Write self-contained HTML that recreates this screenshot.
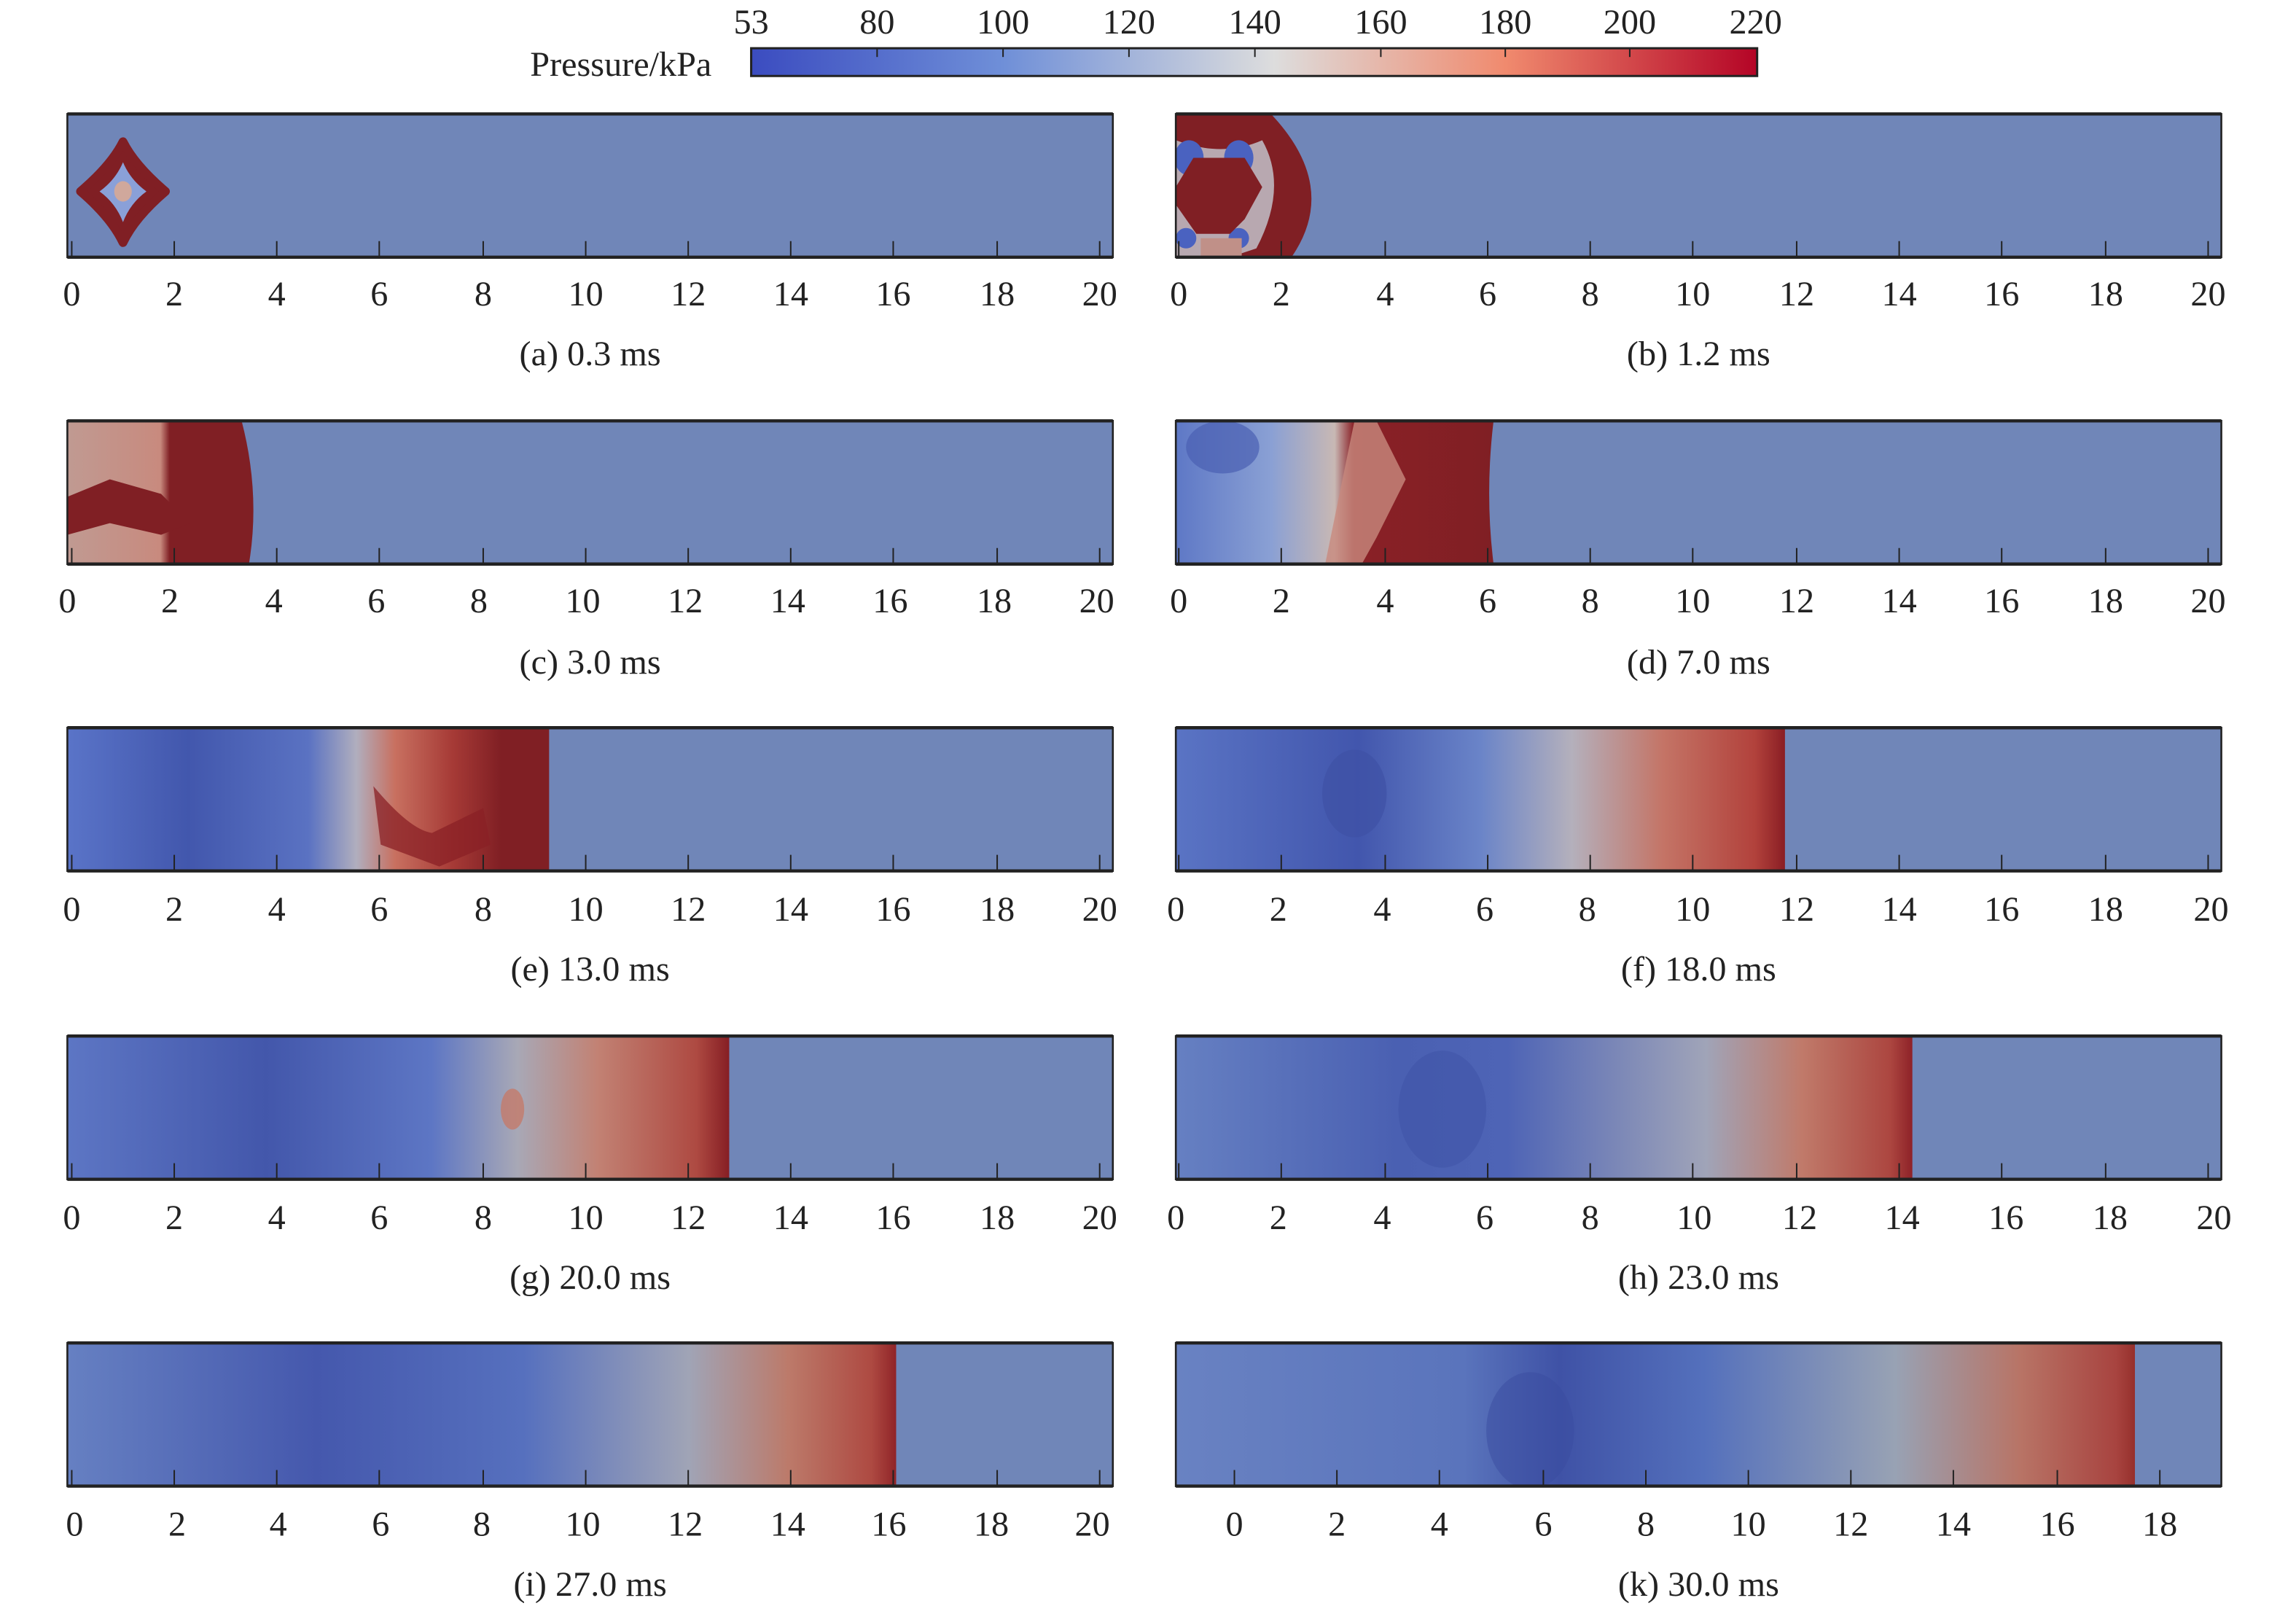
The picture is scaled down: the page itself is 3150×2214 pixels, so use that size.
<!DOCTYPE html>
<html><head><meta charset="utf-8">
<style>
html,body{margin:0;padding:0;background:#fff;}
svg{display:block;}
text{font-family:"Liberation Serif",serif;fill:#222;}
</style></head>
<body>
<svg width="3150" height="2214" viewBox="0 0 1568 1104.5" preserveAspectRatio="none" xmlns="http://www.w3.org/2000/svg">
<defs>
<linearGradient id="cb" x1="0" x2="1" y1="0" y2="0">
<stop offset="0" stop-color="#3b4cc0"/><stop offset="0.25" stop-color="#6f8fd8"/><stop offset="0.52" stop-color="#dddddd"/><stop offset="0.75" stop-color="#f08a6e"/><stop offset="1" stop-color="#b40426"/>
</linearGradient>
<linearGradient id="gc" x1="0" x2="1"><stop offset="0" stop-color="#c09a92"/><stop offset="0.5" stop-color="#c88a7e"/><stop offset="0.55" stop-color="#801f24"/><stop offset="1" stop-color="#801f24"/></linearGradient>
<linearGradient id="gd" x1="0" x2="1"><stop offset="0" stop-color="#5e78c6"/><stop offset="0.3" stop-color="#8aa0d4"/><stop offset="0.5" stop-color="#c8b8b4"/><stop offset="0.56" stop-color="#8a2026"/><stop offset="1" stop-color="#801f24"/></linearGradient>
<linearGradient id="ge" x1="0" x2="1"><stop offset="0" stop-color="#5a74c8"/><stop offset="0.25" stop-color="#4257ad"/><stop offset="0.5" stop-color="#5a72c2"/><stop offset="0.6" stop-color="#b0aebe"/><stop offset="0.68" stop-color="#c87060"/><stop offset="0.8" stop-color="#a63a36"/><stop offset="0.9" stop-color="#801f24"/><stop offset="1" stop-color="#801f24"/></linearGradient>
<linearGradient id="gf" x1="0" x2="1"><stop offset="0" stop-color="#5a74c4"/><stop offset="0.3" stop-color="#4256ad"/><stop offset="0.5" stop-color="#6a84c8"/><stop offset="0.65" stop-color="#b4b0bc"/><stop offset="0.8" stop-color="#c47466"/><stop offset="0.95" stop-color="#b2423c"/><stop offset="1" stop-color="#8a1e24"/></linearGradient>
<linearGradient id="gg" x1="0" x2="1"><stop offset="0" stop-color="#5d76c4"/><stop offset="0.3" stop-color="#4357ab"/><stop offset="0.55" stop-color="#5d76c4"/><stop offset="0.68" stop-color="#a8a8b6"/><stop offset="0.8" stop-color="#c28274"/><stop offset="0.95" stop-color="#ae4a42"/><stop offset="1" stop-color="#861e24"/></linearGradient>
<linearGradient id="gh" x1="0" x2="1"><stop offset="0" stop-color="#6680c2"/><stop offset="0.3" stop-color="#4a60b2"/><stop offset="0.45" stop-color="#4e64b6"/><stop offset="0.72" stop-color="#a0a4b8"/><stop offset="0.85" stop-color="#c07a6a"/><stop offset="0.97" stop-color="#ac4640"/><stop offset="1" stop-color="#8e2228"/></linearGradient>
<linearGradient id="gi" x1="0" x2="1"><stop offset="0" stop-color="#6680c2"/><stop offset="0.3" stop-color="#4558ad"/><stop offset="0.55" stop-color="#5670be"/><stop offset="0.75" stop-color="#a0a4b6"/><stop offset="0.87" stop-color="#bc7a6a"/><stop offset="0.97" stop-color="#ae4a42"/><stop offset="1" stop-color="#902428"/></linearGradient>
<linearGradient id="gk" x1="0" x2="1"><stop offset="0" stop-color="#6982c2"/><stop offset="0.3" stop-color="#5a74bc"/><stop offset="0.4" stop-color="#3f52a6"/><stop offset="0.55" stop-color="#5470bc"/><stop offset="0.75" stop-color="#98a2b4"/><stop offset="0.88" stop-color="#b87466"/><stop offset="0.98" stop-color="#a84440"/><stop offset="1" stop-color="#96302c"/></linearGradient>
<clipPath id="cl"><rect x="46" y="0" width="714" height="98"/></clipPath>
<clipPath id="cr"><rect x="803" y="0" width="714" height="98"/></clipPath>
</defs>

<rect x="513" y="33" width="687" height="19" fill="url(#cb)" stroke="#222" stroke-width="1.5"/>
<g stroke="#222" stroke-width="1">
<line x1="599" y1="33" x2="599" y2="39"/><line x1="685" y1="33" x2="685" y2="39"/><line x1="771" y1="33" x2="771" y2="39"/><line x1="857" y1="33" x2="857" y2="39"/><line x1="943" y1="33" x2="943" y2="39"/><line x1="1028" y1="33" x2="1028" y2="39"/><line x1="1113" y1="33" x2="1113" y2="39"/>
</g>
<g font-size="24" text-anchor="middle">
<text x="513" y="23">53</text><text x="599" y="23">80</text><text x="685" y="23">100</text><text x="771" y="23">120</text><text x="857" y="23">140</text><text x="943" y="23">160</text><text x="1028" y="23">180</text><text x="1113" y="23">200</text><text x="1199" y="23">220</text>
</g>
<text x="486" y="52" font-size="24" text-anchor="end">Pressure/kPa</text>

<g transform="translate(0,78)">
 <rect x="46" y="0" width="714" height="98" fill="#7086b8"/>
 <g clip-path="url(#cl)">
  <path d="M84,19 Q92,35 113,53 Q92,71 84,88 Q76,71 55,53 Q76,35 84,19 Z" fill="#801f24" stroke="#801f24" stroke-width="6" stroke-linejoin="round"/>
  <path d="M84,33 Q89,45 100,53 Q89,61 84,74 Q79,61 68,53 Q79,45 84,33 Z" fill="#8aa0d8"/>
  <ellipse cx="84" cy="53" rx="6" ry="7" fill="#d0a89c"/>
 </g>
 <rect x="803" y="0" width="714" height="98" fill="#7086b8"/>
 <g clip-path="url(#cr)">
  <path d="M803,0 L868,0 Q915,50 882,98 L803,98 Z" fill="#801f24"/>
  <path d="M803,18 Q835,30 862,18 Q880,50 858,92 L840,98 L803,98 Z" fill="#b8a8b0"/>
  <ellipse cx="812" cy="30" rx="10" ry="12" fill="#4a62c0"/>
  <ellipse cx="846" cy="30" rx="10" ry="12" fill="#4a62c0"/>
  <ellipse cx="810" cy="85" rx="7" ry="7" fill="#4a62c0"/>
  <ellipse cx="846" cy="85" rx="7" ry="7" fill="#4a62c0"/>
  <path d="M803,50 L815,30 L850,30 L862,50 L850,72 L840,82 L817,82 L803,62 Z" fill="#801f24"/>
  <rect x="820" y="85" width="28" height="13" fill="#c09088"/>
 </g>
</g>

<g transform="translate(0,288)">
 <rect x="46" y="0" width="714" height="98" fill="#7086b8"/>
 <g clip-path="url(#cl)">
  <path d="M46,0 L165,0 Q178,50 170,98 L46,98 Z" fill="url(#gc)"/>
  <path d="M46,52 L75,40 L110,50 L130,70 L110,78 L75,70 L46,78 Z" fill="#801f24"/>
 </g>
 <rect x="803" y="0" width="714" height="98" fill="#7086b8"/>
 <g clip-path="url(#cr)">
  <path d="M803,0 L1020,0 Q1014,50 1020,98 L803,98 Z" fill="url(#gd)"/>
  <ellipse cx="835" cy="18" rx="25" ry="18" fill="#4a5fb2" opacity="0.7"/>
  <path d="M925,0 L940,0 L960,40 L940,80 L930,98 L905,98 Z" fill="#c88a7e" opacity="0.8"/>
 </g>
</g>

<g transform="translate(0,498)">
 <rect x="46" y="0" width="714" height="98" fill="#7086b8"/>
 <g clip-path="url(#cl)">
  <rect x="46" y="0" width="329" height="98" fill="url(#ge)"/>
  <path d="M255,40 Q280,70 295,72 L330,55 L335,80 L300,95 L260,80 Z" fill="#8a2026" opacity="0.75"/>
 </g>
 <rect x="803" y="0" width="714" height="98" fill="#7086b8"/>
 <g clip-path="url(#cr)">
  <rect x="803" y="0" width="416" height="98" fill="url(#gf)"/>
  <ellipse cx="925" cy="45" rx="22" ry="30" fill="#3e51a5" opacity="0.7"/>
 </g>
</g>

<g transform="translate(0,709)">
 <rect x="46" y="0" width="714" height="98" fill="#7086b8"/>
 <g clip-path="url(#cl)">
  <rect x="46" y="0" width="452" height="98" fill="url(#gg)"/>
  <ellipse cx="350" cy="50" rx="8" ry="14" fill="#c47a6a" opacity="0.8"/>
 </g>
 <rect x="803" y="0" width="714" height="98" fill="#7086b8"/>
 <g clip-path="url(#cr)">
  <rect x="803" y="0" width="503" height="98" fill="url(#gh)"/>
  <ellipse cx="985" cy="50" rx="30" ry="40" fill="#3e51a5" opacity="0.5"/>
 </g>
</g>

<g transform="translate(0,919)">
 <rect x="46" y="0" width="714" height="98" fill="#7086b8"/>
 <g clip-path="url(#cl)">
  <rect x="46" y="0" width="566" height="98" fill="url(#gi)"/>
 </g>
 <rect x="803" y="0" width="714" height="98" fill="#7086b8"/>
 <g clip-path="url(#cr)">
  <rect x="803" y="0" width="655" height="98" fill="url(#gk)"/>
  <ellipse cx="1045" cy="60" rx="30" ry="40" fill="#3a4ca0" opacity="0.5"/>
 </g>
</g>

<g fill="none" stroke="#222">
 <g stroke-width="1.3">
  <rect x="46" y="78" width="714" height="98"/><rect x="803" y="78" width="714" height="98"/>
  <rect x="46" y="288" width="714" height="98"/><rect x="803" y="288" width="714" height="98"/>
  <rect x="46" y="498" width="714" height="98"/><rect x="803" y="498" width="714" height="98"/>
  <rect x="46" y="709" width="714" height="98"/><rect x="803" y="709" width="714" height="98"/>
  <rect x="46" y="919" width="714" height="98"/><rect x="803" y="919" width="714" height="98"/>
 </g>
 <g stroke-width="2.2">
  <line x1="46" y1="78" x2="760" y2="78"/><line x1="46" y1="176" x2="760" y2="176"/><line x1="803" y1="78" x2="1517" y2="78"/><line x1="803" y1="176" x2="1517" y2="176"/>
  <line x1="46" y1="288" x2="760" y2="288"/><line x1="46" y1="386" x2="760" y2="386"/><line x1="803" y1="288" x2="1517" y2="288"/><line x1="803" y1="386" x2="1517" y2="386"/>
  <line x1="46" y1="498" x2="760" y2="498"/><line x1="46" y1="596" x2="760" y2="596"/><line x1="803" y1="498" x2="1517" y2="498"/><line x1="803" y1="596" x2="1517" y2="596"/>
  <line x1="46" y1="709" x2="760" y2="709"/><line x1="46" y1="807" x2="760" y2="807"/><line x1="803" y1="709" x2="1517" y2="709"/><line x1="803" y1="807" x2="1517" y2="807"/>
  <line x1="46" y1="919" x2="760" y2="919"/><line x1="46" y1="1017" x2="760" y2="1017"/><line x1="803" y1="919" x2="1517" y2="919"/><line x1="803" y1="1017" x2="1517" y2="1017"/>
 </g>
</g>

<g stroke="#222" stroke-width="1">
 <path d="M49,176v-11M119,176v-11M189,176v-11M259,176v-11M330,176v-11M400,176v-11M470,176v-11M540,176v-11M610,176v-11M681,176v-11M751,176v-11"/>
 <path d="M805,176v-11M875,176v-11M946,176v-11M1016,176v-11M1086,176v-11M1156,176v-11M1227,176v-11M1297,176v-11M1367,176v-11M1438,176v-11M1508,176v-11"/>
 <path transform="translate(0,210)" d="M49,176v-11M119,176v-11M189,176v-11M259,176v-11M330,176v-11M400,176v-11M470,176v-11M540,176v-11M610,176v-11M681,176v-11M751,176v-11"/>
 <path transform="translate(0,210)" d="M805,176v-11M875,176v-11M946,176v-11M1016,176v-11M1086,176v-11M1156,176v-11M1227,176v-11M1297,176v-11M1367,176v-11M1438,176v-11M1508,176v-11"/>
 <path transform="translate(0,420)" d="M49,176v-11M119,176v-11M189,176v-11M259,176v-11M330,176v-11M400,176v-11M470,176v-11M540,176v-11M610,176v-11M681,176v-11M751,176v-11"/>
 <path transform="translate(0,420)" d="M805,176v-11M875,176v-11M946,176v-11M1016,176v-11M1086,176v-11M1156,176v-11M1227,176v-11M1297,176v-11M1367,176v-11M1438,176v-11M1508,176v-11"/>
 <path transform="translate(0,631)" d="M49,176v-11M119,176v-11M189,176v-11M259,176v-11M330,176v-11M400,176v-11M470,176v-11M540,176v-11M610,176v-11M681,176v-11M751,176v-11"/>
 <path transform="translate(0,631)" d="M805,176v-11M875,176v-11M946,176v-11M1016,176v-11M1086,176v-11M1156,176v-11M1227,176v-11M1297,176v-11M1367,176v-11M1438,176v-11M1508,176v-11"/>
 <path transform="translate(0,841)" d="M49,176v-11M119,176v-11M189,176v-11M259,176v-11M330,176v-11M400,176v-11M470,176v-11M540,176v-11M610,176v-11M681,176v-11M751,176v-11"/>
 <path transform="translate(0,841)" d="M843,176v-11M913,176v-11M983,176v-11M1054,176v-11M1124,176v-11M1194,176v-11M1264,176v-11M1334,176v-11M1405,176v-11M1475,176v-11"/>
</g>

<g font-size="24" text-anchor="middle">
 <text x="49" y="209">0</text><text x="119" y="209">2</text><text x="189" y="209">4</text><text x="259" y="209">6</text><text x="330" y="209">8</text><text x="400" y="209">10</text><text x="470" y="209">12</text><text x="540" y="209">14</text><text x="610" y="209">16</text><text x="681" y="209">18</text><text x="751" y="209">20</text>
 <text x="805" y="209">0</text><text x="875" y="209">2</text><text x="946" y="209">4</text><text x="1016" y="209">6</text><text x="1086" y="209">8</text><text x="1156" y="209">10</text><text x="1227" y="209">12</text><text x="1297" y="209">14</text><text x="1367" y="209">16</text><text x="1438" y="209">18</text><text x="1508" y="209">20</text>
 <text x="403" y="250">(a) 0.3 ms</text><text x="1160" y="250">(b) 1.2 ms</text>
 <text x="46" y="419">0</text><text x="116" y="419">2</text><text x="187" y="419">4</text><text x="257" y="419">6</text><text x="327" y="419">8</text><text x="398" y="419">10</text><text x="468" y="419">12</text><text x="538" y="419">14</text><text x="608" y="419">16</text><text x="679" y="419">18</text><text x="749" y="419">20</text>
 <text x="805" y="419">0</text><text x="875" y="419">2</text><text x="946" y="419">4</text><text x="1016" y="419">6</text><text x="1086" y="419">8</text><text x="1156" y="419">10</text><text x="1227" y="419">12</text><text x="1297" y="419">14</text><text x="1367" y="419">16</text><text x="1438" y="419">18</text><text x="1508" y="419">20</text>
 <text x="403" y="461">(c) 3.0 ms</text><text x="1160" y="461">(d) 7.0 ms</text>
 <text x="49" y="630">0</text><text x="119" y="630">2</text><text x="189" y="630">4</text><text x="259" y="630">6</text><text x="330" y="630">8</text><text x="400" y="630">10</text><text x="470" y="630">12</text><text x="540" y="630">14</text><text x="610" y="630">16</text><text x="681" y="630">18</text><text x="751" y="630">20</text>
 <text x="803" y="630">0</text><text x="873" y="630">2</text><text x="944" y="630">4</text><text x="1014" y="630">6</text><text x="1084" y="630">8</text><text x="1156" y="630">10</text><text x="1227" y="630">12</text><text x="1297" y="630">14</text><text x="1367" y="630">16</text><text x="1438" y="630">18</text><text x="1510" y="630">20</text>
 <text x="403" y="671">(e) 13.0 ms</text><text x="1160" y="671">(f) 18.0 ms</text>
 <text x="49" y="841">0</text><text x="119" y="841">2</text><text x="189" y="841">4</text><text x="259" y="841">6</text><text x="330" y="841">8</text><text x="400" y="841">10</text><text x="470" y="841">12</text><text x="540" y="841">14</text><text x="610" y="841">16</text><text x="681" y="841">18</text><text x="751" y="841">20</text>
 <text x="803" y="841">0</text><text x="873" y="841">2</text><text x="944" y="841">4</text><text x="1014" y="841">6</text><text x="1086" y="841">8</text><text x="1157" y="841">10</text><text x="1229" y="841">12</text><text x="1299" y="841">14</text><text x="1370" y="841">16</text><text x="1441" y="841">18</text><text x="1512" y="841">20</text>
 <text x="403" y="882">(g) 20.0 ms</text><text x="1160" y="882">(h) 23.0 ms</text>
 <text x="51" y="1051">0</text><text x="121" y="1051">2</text><text x="190" y="1051">4</text><text x="260" y="1051">6</text><text x="329" y="1051">8</text><text x="398" y="1051">10</text><text x="468" y="1051">12</text><text x="538" y="1051">14</text><text x="607" y="1051">16</text><text x="677" y="1051">18</text><text x="746" y="1051">20</text>
 <text x="843" y="1051">0</text><text x="913" y="1051">2</text><text x="983" y="1051">4</text><text x="1054" y="1051">6</text><text x="1124" y="1051">8</text><text x="1194" y="1051">10</text><text x="1264" y="1051">12</text><text x="1334" y="1051">14</text><text x="1405" y="1051">16</text><text x="1475" y="1051">18</text>
 <text x="403" y="1092">(i) 27.0 ms</text><text x="1160" y="1092">(k) 30.0 ms</text>
</g>
</svg>
</body></html>
